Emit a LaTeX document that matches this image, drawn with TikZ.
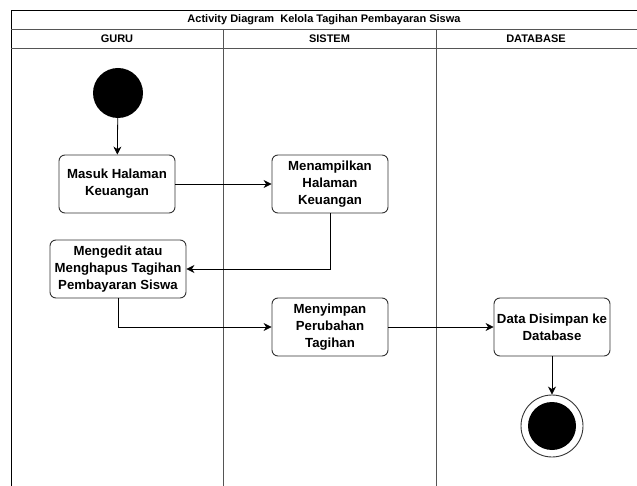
\documentclass[tikz,border=0pt]{standalone}
\usepackage{fontspec}
\setmainfont{Liberation Sans}
\usetikzlibrary{arrows.meta}
\definecolor{edge}{HTML}{333333}
\definecolor{lane}{HTML}{555555}
\begin{document}
\begin{tikzpicture}[x=1pt,y=-1pt,
  act/.style={draw=edge,line width=0.9pt,rounded corners=6pt,fill=white,
    minimum width=116pt,minimum height=58pt,align=center,inner sep=1pt,
    font=\fontsize{13.2}{17}\selectfont\bfseries},
  flow/.style={draw=black,line width=0.8pt,-{Stealth[length=8pt,width=8pt]}},
  hdr/.style={font=\fontsize{11}{13}\selectfont\bfseries}]
\useasboundingbox (0,0) rectangle (637,486);
% swimlane frame
\draw[line width=0.8pt] (637,10) -- (11,10) -- (11,486);
\draw[line width=0.8pt,lane] (11,29) -- (637,29);
\draw[line width=0.8pt,lane] (11,48) -- (637,48);
\draw[line width=0.8pt,lane] (223,29) -- (223,486);
\draw[line width=0.8pt,lane] (436,29) -- (436,486);
\node[hdr] (title) at (324,19.5) {Activity Diagram\ \ Kelola Tagihan Pembayaran Siswa};
\node[hdr] (lguru) at (117,38.5) {GURU};
\node[hdr] (lsis) at (329.5,38.5) {SISTEM};
\node[hdr] (ldb) at (536,38.5) {DATABASE};
% nodes
\node[circle,fill=black,minimum size=50pt,inner sep=0pt] (start) at (118,93) {};
\node[act,minimum width=116pt] (masuk) at (117,184) {Masuk Halaman\\Keuangan};
\node[act] (tampil) at (330,184) {Menampilkan\\Halaman\\Keuangan};
\node[act,minimum width=136pt] (edit) at (118,269) {Mengedit atau\\Menghapus Tagihan\\Pembayaran Siswa};
\node[act] (simpan) at (330,327) {Menyimpan\\Perubahan\\Tagihan};
\node[act,inner sep=0pt] (db) at (552,327) {Data Disimpan ke\\Database};
\node[circle,draw=edge,line width=0.9pt,fill=white,minimum size=62pt,inner sep=0pt] (end) at (552,426) {};
\node[circle,fill=black,minimum size=48pt,inner sep=0pt] (endin) at (end.center) {};
% flows
\draw[flow] (start) -- (masuk);
\draw[flow] (masuk) -- (tampil);
\draw[flow] (tampil.south) |- (edit.east);
\draw[flow] (edit.south) |- (simpan.west);
\draw[flow] (simpan) -- (db);
\draw[flow] (db) -- (end);
\end{tikzpicture}
\end{document}
